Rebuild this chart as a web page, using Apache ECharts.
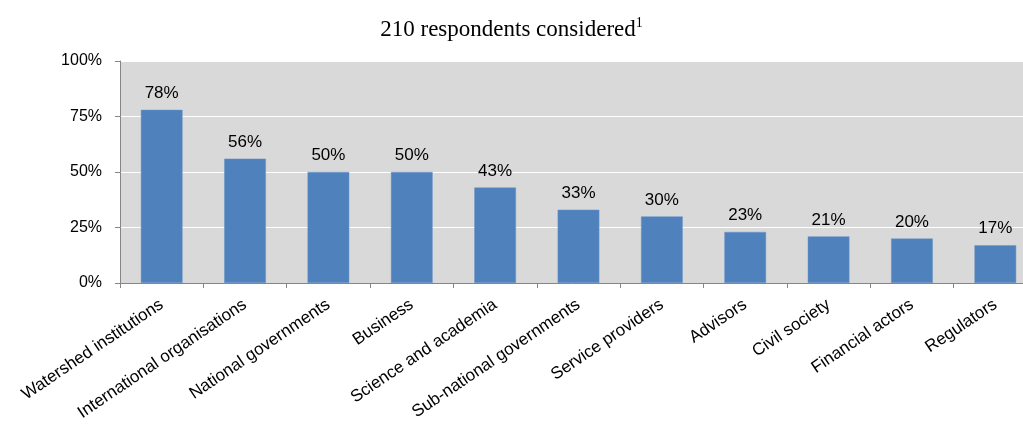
<!DOCTYPE html>
<html>
<head>
<meta charset="utf-8">
<script src="https://cdn.jsdelivr.net/npm/echarts@6/dist/echarts.min.js"></script>
<style>
  html, body { margin: 0; padding: 0; background: #ffffff; }
  #chart { width: 1023px; height: 425px; }
</style>
</head>
<body>
<div id="chart"></div>
<script>
// Share of respondents naming each stakeholder group
const categories = [
  'Watershed institutions',
  'International organisations',
  'National governments',
  'Business',
  'Science and academia',
  'Sub-national governments',
  'Service providers',
  'Advisors',
  'Civil society',
  'Financial actors',
  'Regulators'
];
const shares = [78, 56, 50, 50, 43, 33, 30, 23, 21, 20, 17];
const yTicks = [0, 25, 50, 75, 100];

const chart = echarts.init(document.getElementById('chart'), null, { renderer: 'canvas' });

chart.setOption({
  animation: false,
  backgroundColor: '#ffffff',
  title: {
    text: '{main|210 respondents considered}{sup|1}',
    left: 'center',
    top: 11,
    textStyle: {
      fontWeight: 'normal',
      rich: {
        main: { fontFamily: 'Liberation Serif', fontSize: 23, fontWeight: 'normal', color: '#000000', lineHeight: 27 },
        sup: { fontFamily: 'Liberation Serif', fontSize: 14, fontWeight: 'normal', color: '#000000', verticalAlign: 'top', lineHeight: 27, padding: [0, 0, 10, 0] }
      }
    }
  },
  grid: {
    left: 120,
    width: 917,
    top: 61,
    bottom: 142,
    outerBoundsMode: 'none',
    containLabel: false,
    show: true,
    backgroundColor: '#d9d9d9',
    borderWidth: 0
  },
  xAxis: {
    type: 'category',
    data: categories,
    boundaryGap: true,
    axisLine: { show: true, lineStyle: { color: '#868686', width: 1 } },
    axisTick: { show: true, length: 5, alignWithLabel: false, lineStyle: { color: '#868686' } },
    axisLabel: {
      interval: 0,
      rotate: 34,
      margin: 20,
      fontFamily: 'Liberation Sans',
      fontSize: 17,
      color: '#000000'
    },
    splitLine: { show: false }
  },
  yAxis: {
    type: 'value',
    min: yTicks[0],
    max: yTicks[yTicks.length - 1],
    interval: 25,
    axisLine: { show: true, lineStyle: { color: '#868686', width: 1 } },
    axisTick: { show: true, length: 5, lineStyle: { color: '#868686' } },
    axisLabel: {
      margin: 18,
      fontFamily: 'Liberation Sans',
      fontSize: 16,
      color: '#000000',
      formatter: v => v + '%'
    },
    splitLine: { show: true, lineStyle: { color: '#ffffff', width: 1 } }
  },
  series: [{
    type: 'bar',
    data: shares,
    barCategoryGap: '50%',
    itemStyle: { color: '#4f81bd', borderColor: '#6a95c9', borderWidth: 0.5 },
    label: {
      show: true,
      position: 'top',
      distance: 8,
      fontFamily: 'Liberation Sans',
      fontSize: 17,
      color: '#000000',
      formatter: p => p.value + '%'
    }
  }]
});
</script>
</body>
</html>
